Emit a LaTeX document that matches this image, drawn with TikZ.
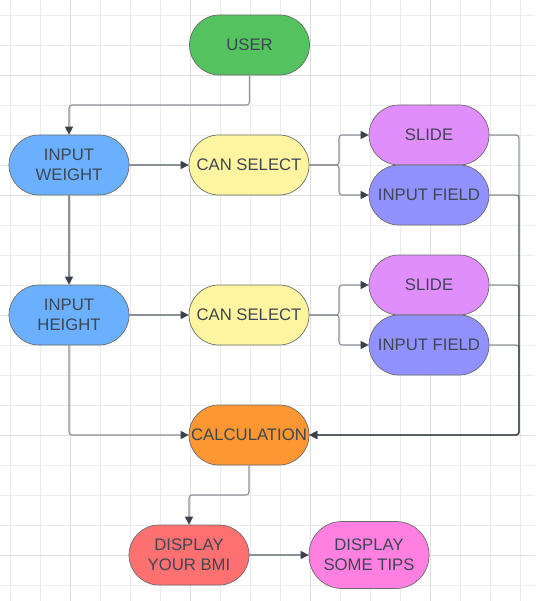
\documentclass[tikz,border=0pt]{standalone}
\usepackage{fontspec}
\setmainfont{Liberation Sans}
\usetikzlibrary{arrows.meta}
\definecolor{gminor}{HTML}{EBEBEB}
\definecolor{gmajor}{HTML}{DEDEDE}
\definecolor{txt}{HTML}{3E4753}
\definecolor{edge}{HTML}{8C9097}
\definecolor{tipc}{HTML}{3A414A}
\definecolor{cgreen}{HTML}{54C25E}
\definecolor{cblue}{HTML}{6AB0FF}
\definecolor{cyellow}{HTML}{FFF5A1}
\definecolor{cviolet}{HTML}{E08EFC}
\definecolor{cfield}{HTML}{9191FF}
\definecolor{corange}{HTML}{FC9732}
\definecolor{cred}{HTML}{FF7070}
\definecolor{cpink}{HTML}{FF80E0}
\tikzset{
  pill/.style={draw=black!58, line width=0.7pt, rectangle, rounded corners=30pt,
    minimum width=120pt, minimum height=60pt, inner sep=0pt, align=center,
    text=txt, font=\fontsize{16.7}{19.8}\selectfont},
  conn/.style={draw=edge, line width=1.1pt, rounded corners=3pt,
    -{Triangle[length=8pt,width=8pt,color=tipc]}},
  bus/.style={draw=tipc, draw opacity=0.55, line width=1.3pt, rounded corners=3pt,
    -{Triangle[length=8pt,width=8pt,color=tipc]}},
}
\begin{document}
\begin{tikzpicture}[x=1pt,y=-1pt]
\useasboundingbox (0,0) rectangle (535,601);
\fill[white] (0,0) rectangle (535,601);
% grid
\foreach \x in {10,40,...,520} \draw[gminor, line width=0.9pt] (\x,0) -- (\x,601);
\foreach \y in {15,45,...,585} \draw[gminor, line width=0.9pt] (0,\y) -- (535,\y);
\foreach \x in {70,190,310,430} \draw[gmajor, line width=0.9pt] (\x,0) -- (\x,601);
\foreach \y in {75,195,315,435,555} \draw[gmajor, line width=0.9pt] (0,\y) -- (535,\y);
% nodes
\node[pill, fill=cgreen] (user) at (249.5,45) {USER};
\node[pill, fill=cblue] (iw) at (69,165) {INPUT\\WEIGHT};
\node[pill, fill=cyellow] (cs1) at (249,165) {CAN SELECT};
\node[pill, fill=cviolet] (s1) at (429,135) {SLIDE};
\node[pill, fill=cfield] (f1) at (429,195) {INPUT FIELD};
\node[pill, fill=cblue] (ih) at (69,315) {INPUT\\HEIGHT};
\node[pill, fill=cyellow] (cs2) at (249,315) {CAN SELECT};
\node[pill, fill=cviolet] (s2) at (429,285) {SLIDE};
\node[pill, fill=cfield] (f2) at (429,345) {INPUT FIELD};
\node[pill, fill=corange] (calc) at (249,435) {CALCULATION};
\node[pill, fill=cred] (bmi) at (189,555) {DISPLAY\\YOUR BMI};
\node[pill, fill=cpink, minimum height=67pt, rounded corners=33pt] (tips) at (369,555) {DISPLAY\\SOME TIPS};
% connectors
\draw[conn] (user.south) -- (249.5,105) -- (69,105) -- (iw.north);
\draw[conn] (iw.east) -- (cs1.west);
\draw[conn] (iw.south) -- (ih.north);
\draw[conn] (cs1.east) -- (339,165) -- (339,135) -- (s1.west);
\draw[conn] (cs1.east) -- (339,165) -- (339,195) -- (f1.west);
\draw[conn] (ih.east) -- (cs2.west);
\draw[conn] (cs2.east) -- (339,315) -- (339,285) -- (s2.west);
\draw[conn] (cs2.east) -- (339,315) -- (339,345) -- (f2.west);
\draw[conn] (ih.south) -- (69,435) -- (calc.west);
\draw[bus] (s1.east) -- (519,135) -- (519,435) -- (calc.east);
\draw[bus] (f1.east) -- (519,195) -- (519,435) -- (calc.east);
\draw[bus] (s2.east) -- (519,285) -- (519,435) -- (calc.east);
\draw[bus] (f2.east) -- (519,345) -- (519,435) -- (calc.east);
\draw[conn] (calc.south) -- (249,495) -- (189,495) -- (bmi.north);
\draw[conn] (bmi.east) -- (tips.west);
\end{tikzpicture}
\end{document}
